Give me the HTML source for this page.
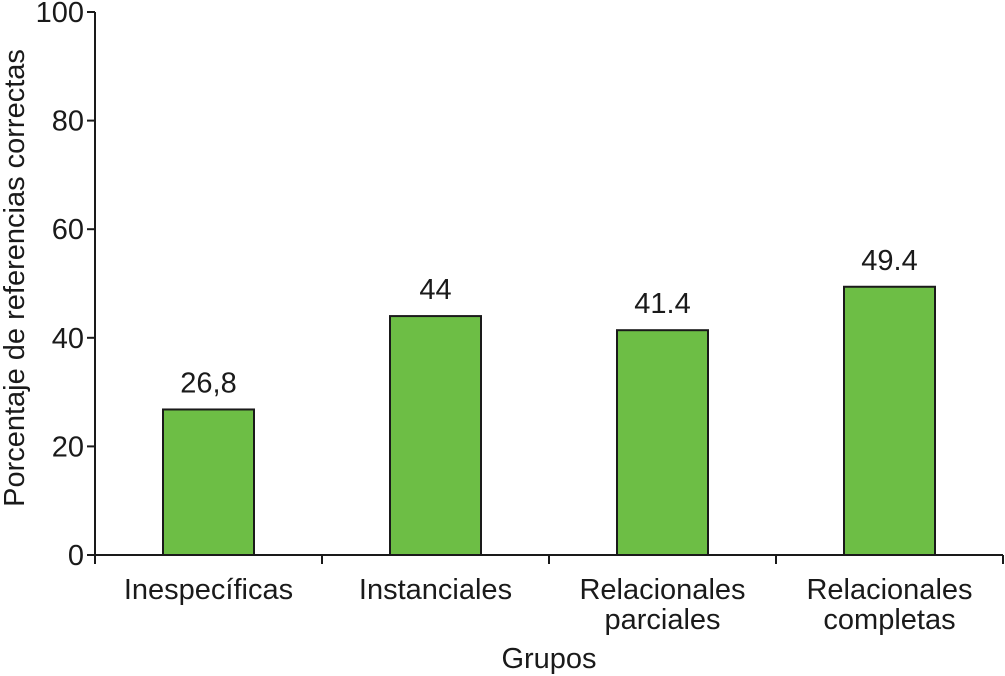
<!DOCTYPE html>
<html><head><meta charset="utf-8"><style>
html,body{margin:0;padding:0;background:#fff;}
svg{display:block;font-family:"Liberation Sans",Arial,sans-serif;}
</style></head><body>
<svg id="chart" width="1005" height="676" viewBox="0 0 1005 676"></svg>
<script>
const categories = [["Inespecíficas"],["Instanciales"],["Relacionales","parciales"],["Relacionales","completas"]];
const values = [26.8, 44, 41.4, 49.4];
const valueLabels = ["26,8","44","41.4","49.4"];
const yTicks = [0,20,40,60,80,100];

const svg = document.getElementById('chart');
const NS = 'http://www.w3.org/2000/svg';
const x0 = 95, x1 = 1003, y0 = 555, yTop = 12;
const FS = 29;
const yScale = v => y0 - (v/100)*(y0-yTop);
const band = (x1-x0)/categories.length;
const xCenter = i => x0 + band*(i+0.5);
const barW = 91;
function mk(tag, attrs, text){
  const e = document.createElementNS(NS, tag);
  for (const k in attrs) e.setAttribute(k, attrs[k]);
  if (text !== undefined) e.textContent = text;
  svg.appendChild(e);
  return e;
}
values.forEach((v,i)=>{
  const r = mk('rect',{x:xCenter(i)-barW/2, y:yScale(v), width:barW, height:y0-yScale(v), fill:'#6dbe45', stroke:'#1a1a1a','stroke-width':2});
  
  
  const t = mk('text',{x:xCenter(i), y:yScale(v)-17, 'text-anchor':'middle','font-size':FS, fill:'#1a1a1a'}, valueLabels[i]);
  
  
});
const ya = mk('line',{x1:x0,y1:yTop,x2:x0,y2:y0,stroke:'#1a1a1a','stroke-width':2});


const xa = mk('line',{x1:x0,y1:y0,x2:x1,y2:y0,stroke:'#1a1a1a','stroke-width':2});


yTicks.forEach(v=>{
  const y = yScale(v);
  mk('line',{x1:x0-8,y1:y,x2:x0,y2:y,stroke:'#1a1a1a','stroke-width':2});
  const t = mk('text',{x:x0-11,y:y+10,'text-anchor':'end','font-size':FS,fill:'#1a1a1a'}, String(v));
  
  
});
for (let i=0;i<=categories.length;i++){
  const x = x0 + band*i;
  mk('line',{x1:x,y1:y0,x2:x,y2:y0+9,stroke:'#1a1a1a','stroke-width':2});
}
categories.forEach((lines,i)=>{
  lines.forEach((ln,j)=>{
    const t = mk('text',{x:xCenter(i),y:599+j*30,'text-anchor':'middle','font-size':FS,fill:'#1a1a1a'}, ln);
    
    
  });
});
const xt = mk('text',{x:549,y:668,'text-anchor':'middle','font-size':FS,fill:'#1a1a1a'},'Grupos');


const yt = mk('text',{x:0,y:0,'text-anchor':'middle','font-size':FS,fill:'#1a1a1a',transform:'translate(24,278) rotate(-90)'},'Porcentaje de referencias correctas');


</script>
</body></html>
